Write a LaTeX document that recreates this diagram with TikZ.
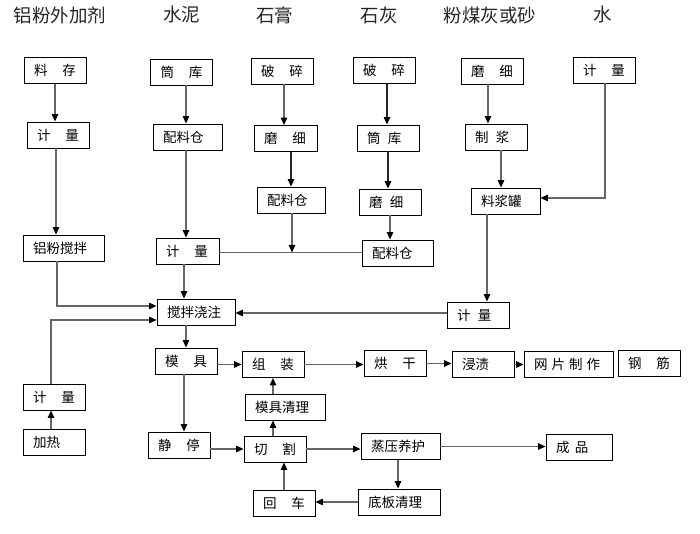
\documentclass[tikz,border=0pt]{standalone}
\usepackage{fontspec}
\setmainfont{Noto Sans CJK SC}
\usetikzlibrary{arrows.meta}
\newcommand{\fg}{\hspace{1.1em}}
\newcommand{\hg}{\hspace{0.55em}}
\begin{document}
\begin{tikzpicture}[x=1pt,y=-1pt,
  box/.style={draw=black,line width=0.9pt,inner xsep=10pt,inner ysep=0pt,minimum height=26pt,align=left,font=\fontsize{13.5}{14}\selectfont},
  ttl/.style={inner sep=0pt,font=\fontsize{18.5}{20}\selectfont,text=black!85},
  ln/.style={draw=black!60,line width=1.3pt},
  arr/.style={ln,-{Triangle[length=7.5pt,width=6.5pt,color=black]}}]
\useasboundingbox[fill=white] (0,0) rectangle (700,534);
% titles
\node[ttl] (t1) at (60,15) {铝粉外加剂};
\node[ttl] (t2) at (181.5,15) {水泥};
\node[ttl] (t3) at (274.5,15) {石膏};
\node[ttl] (t4) at (379,15) {石灰};
\node[ttl] (t5) at (490,15) {粉煤灰或砂};
\node[ttl] (t6) at (602.5,15) {水};
% column 1
\node[box,text width=42pt] (liaocun) at (55,70.5) {料\fg 存};
\node[box,text width=42pt] (jlA) at (58,135) {计\fg 量};
\node[box,text width=61pt] (lfjb) at (63.5,248) {铝粉搅拌};
\node[box,text width=42pt] (jlE) at (54,397) {计\fg 量};
\node[box,text width=42pt] (jiare) at (54,442) {加热};
% column 2
\node[box,text width=42pt] (tkA) at (181.5,72) {筒\fg 库};
\node[box,text width=49pt] (plcA) at (187.5,137) {配料仓};
\node[box,text width=43pt] (jlB) at (187.5,251) {计\fg 量};
\node[box,text width=58pt] (jbjz) at (196,312) {搅拌浇注};
\node[box,text width=42pt] (muju) at (186,361) {模\fg 具};
\node[box,text width=42pt] (jingting) at (179,445) {静\fg 停};
% column 3
\node[box,text width=42pt] (psA) at (282,71) {破\fg 碎};
\node[box,text width=43pt] (mxA) at (285.5,138.5) {磨\fg 细};
\node[box,text width=48pt] (plcB) at (291,200) {配料仓};
\node[box,text width=42pt] (zuzhuang) at (273,364.5) {组\fg 装};
\node[box,text width=60pt] (mjql) at (285,407) {模具清理};
\node[box,text width=42pt] (qiege) at (275,449) {切\fg 割};
\node[box,text width=42pt] (huiche) at (284,503) {回\fg 车};
% column 4
\node[box,text width=42pt] (psB) at (384,70) {破\fg 碎};
\node[box,text width=42pt] (tkB) at (388,138) {筒\hg 库};
\node[box,text width=42pt] (mxB) at (390,202) {磨\hg 细};
\node[box,text width=51pt] (plcC) at (397.5,253) {配料仓};
\node[box,text width=42pt] (honggan) at (395,363.5) {烘\fg 干};
\node[box,text width=59pt] (zyyh) at (400.5,446.5) {蒸压养护};
\node[box,text width=62pt] (dbql) at (399,502) {底板清理};
% column 5
\node[box,text width=42pt] (mxC) at (492,71) {磨\fg 细};
\node[box,text width=42pt] (zhijiang) at (496,137) {制\hg 浆};
\node[box,text width=49pt] (ljg) at (505.5,201) {料浆罐};
\node[box,text width=42pt] (jlC) at (478,315) {计\hg 量};
\node[box,text width=42pt] (jinzi) at (483,364.5) {浸渍};
\node[box,text width=69pt] (wpzz) at (568.5,364.5) {网\hspace{0.3em}片\hspace{0.3em}制\hspace{0.3em}作};
\node[box,text width=46pt] (chengpin) at (579,447) {成\hspace{0.4em}品};
% column 6
\node[box,text width=42pt] (jlD) at (604,70) {计\fg 量};
\node[box,text width=42pt] (gangjin) at (649,363) {钢\fg 筋};
% connectors, column 1
\draw[arr] (liaocun.south) -- (liaocun.south |- jlA.north);
\draw[arr] ([xshift=-2pt]jlA.south) -- ([xshift=-2pt]jlA.south |- lfjb.north);
\draw[arr] ([xshift=-6.5pt]lfjb.south) |- ([yshift=6pt]jbjz.west);
\draw[arr] ([xshift=-3pt]jiare.north) -- ([xshift=-3pt]jiare.north |- jlE.south);
\draw[arr] ([xshift=-3pt]jlE.north) |- ([yshift=-8pt]jbjz.west);
% column 2
\draw[arr] ([xshift=4.5pt]tkA.south) -- ([xshift=4.5pt]tkA.south |- plcA.north);
\draw[arr] ([xshift=-1.5pt]plcA.south) -- ([xshift=-1.5pt]plcA.south |- jlB.north);
\draw[arr] ([xshift=-3.5pt]jlB.south) -- ([xshift=-3.5pt]jlB.south |- jbjz.north);
\draw[arr] ([xshift=-10pt]jbjz.south) -- ([xshift=-10pt]jbjz.south |- muju.north);
\draw[arr] ([xshift=-2pt]muju.south) -- ([xshift=-2pt]muju.south |- jingting.north);
\draw[arr] (muju.east |- zuzhuang.west) -- (zuzhuang.west);
\draw[arr] (jingting.east |- qiege.west) -- (qiege.west);
% column 3
\draw[arr] ([xshift=2pt]psA.south) -- ([xshift=2pt]psA.south |- mxA.north);
\draw[arr,draw=black!85] ([xshift=5.5pt]mxA.south) -- ([xshift=5.5pt]mxA.south |- plcB.north);
\coordinate (jn) at ([yshift=-1.5pt]jlB.east);
\draw[ln] (jn) -- (jn -| plcC.west);
\draw[arr] ([xshift=1pt]plcB.south) -- ([xshift=1pt]plcB.south |- jn);
\draw[arr] ([xshift=-2pt]qiege.north) -- ([xshift=-2pt]qiege.north |- mjql.south);
\draw[arr] (zuzhuang.south |- mjql.north) -- (zuzhuang.south);
\draw[arr] (huiche.north) -- (huiche.north |- qiege.south);
\draw[arr] (zuzhuang.east) -- (zuzhuang.east -| honggan.west);
\draw[arr] (qiege.east) -- (qiege.east -| zyyh.west);
% column 4
\draw[arr,draw=black!85] ([xshift=3pt]psB.south) -- ([xshift=3pt]psB.south |- tkB.north);
\draw[arr,draw=black!85] (tkB.south) -- (tkB.south |- mxB.north);
\draw[arr] (mxB.south) -- (mxB.south |- plcC.north);
\draw[arr] (honggan.east) -- (honggan.east -| jinzi.west);
\draw[arr] (jinzi.east) -- (jinzi.east -| wpzz.west);
\draw[arr] (zyyh.east) -- (zyyh.east -| chengpin.west);
\draw[arr] ([xshift=-2.5pt]zyyh.south) -- ([xshift=-2.5pt]zyyh.south |- dbql.north);
\draw[arr] (dbql.west) -- (dbql.west -| huiche.east);
% column 5
\draw[arr] ([xshift=-4pt]mxC.south) -- ([xshift=-4pt]mxC.south |- zhijiang.north);
\draw[arr] ([xshift=5pt]zhijiang.south) -- ([xshift=5pt]zhijiang.south |- ljg.north);
\draw[arr] ([xshift=-18.5pt]ljg.south) -- ([xshift=-18.5pt]ljg.south |- jlC.north);
\draw[arr] ([yshift=2pt]jlC.west) -- ([yshift=2pt]jlC.west -| jbjz.east);
% column 6
\draw[arr] ([xshift=1pt]jlD.south) |- ([yshift=3pt]ljg.east);
\end{tikzpicture}
\end{document}
